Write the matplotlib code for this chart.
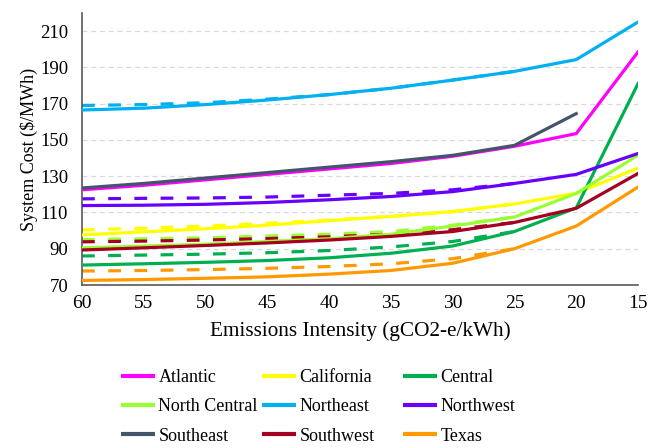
import matplotlib
matplotlib.use("Agg")
import matplotlib.pyplot as plt
from matplotlib.lines import Line2D

plt.rcParams['font.family'] = ['Liberation Serif', 'DejaVu Serif']

# Emission intensity targets (gCO2-e/kWh), drawn as evenly spaced categories
intensity = ["60", "55", "50", "45", "40", "35", "30", "25", "20", "15"]

regions = ["Atlantic", "California", "Central", "North Central", "Northeast",
           "Northwest", "Southeast", "Southwest", "Texas"]

colors = {
    "Atlantic": "#FF00FF",
    "California": "#FFFF00",
    "Central": "#00B050",
    "North Central": "#99FF33",
    "Northeast": "#00B0F0",
    "Northwest": "#6600FF",
    "Southeast": "#44546A",
    "Southwest": "#A50021",
    "Texas": "#FF9900",
}

# System cost ($/MWh), solid scenario
atlantic = [122.5, 125, 128, 131, 134, 137, 141, 146.5, 153.5, 198.5]
california = [97.6, 99.3, 101, 103, 105.5, 107.8, 110.5, 114.7, 120.6, 134.5]
central = [81, 81.7, 82.5, 83.5, 85, 87.5, 91.5, 99.5, 112.5, 181]
north_central = [90.5, 91.5, 92.5, 94, 95.5, 98, 102.5, 107.5, 120.5, 141.5]
northeast = [166.5, 167.5, 169.5, 172, 175, 178.5, 183, 187.8, 194.3, 215]
northwest = [113.8, 114, 114.5, 115.5, 117, 118.8, 121.5, 126, 131, 142.5]
southeast = [123.5, 126, 129, 132, 135, 138, 141.5, 147, 164.5]
southwest = [89.3, 90.5, 91.8, 93.2, 94.8, 96.8, 99.5, 104.5, 112.3, 131.5]
texas = [72.5, 73, 73.7, 74.5, 76, 78, 82, 90, 102.5, 124]

# System cost ($/MWh), dashed scenario (60 to 25 gCO2-e/kWh)
california_d = [100.4, 101.3, 102.5, 104, 105.8, 107.9, 110.5, 114.7]
central_d = [86, 86.5, 87, 87.8, 89, 91, 94, 99.5]
north_central_d = [95, 95.5, 96, 97, 98, 99.5, 103, 107.5]
northeast_d = [169, 169.5, 170.5, 172.5, 175, 178.5, 183, 187.8]
northwest_d = [117.5, 117.8, 118, 118.5, 119.5, 120.5, 122.5, 126]
southwest_d = [93.8, 94.2, 94.8, 95.6, 96.6, 98, 100.5, 104.5]
texas_d = [77.7, 78, 78.5, 79.2, 80.2, 81.7, 84.5, 90]

solid = {
    "Atlantic": atlantic, "California": california, "Central": central,
    "North Central": north_central, "Northeast": northeast,
    "Northwest": northwest, "Southeast": southeast, "Southwest": southwest,
    "Texas": texas,
}
dashed = {
    "California": california_d, "Central": central_d,
    "North Central": north_central_d, "Northeast": northeast_d,
    "Northwest": northwest_d, "Southwest": southwest_d, "Texas": texas_d,
}

fig = plt.figure(figsize=(6.48, 4.48), dpi=100)
W, H = 648, 448
ax = fig.add_axes([82 / W, 1 - 285 / H, (638 - 82) / W, (285 - 13) / H])

xpos = list(range(len(intensity)))
lw = 2.3

for name, vals in dashed.items():
    ax.plot(xpos[:len(vals)], vals, color=colors[name], lw=lw,
            dashes=(4, 4.2), solid_capstyle='butt', zorder=2)

for name in regions:
    vals = solid[name]
    ax.plot(xpos[:len(vals)], vals, color=colors[name], lw=lw,
            solid_joinstyle='round', zorder=3)

ax.set_xlim(0, len(intensity) - 1)
ax.set_ylim(70, 220)
ax.set_xticks(xpos)
ax.set_xticklabels(intensity)
ax.set_yticks(range(70, 211, 20))
ax.tick_params(axis='both', length=0, colors='black')
ax.tick_params(axis='x', pad=7, labelsize=14)
ax.tick_params(axis='y', pad=10, labelsize=13.5)

ax.grid(axis='y', color='#D9D9D9', linestyle=(0, (4, 3)), linewidth=0.9)
ax.set_axisbelow(True)
for s in ['top', 'right']:
    ax.spines[s].set_visible(False)
for s in ['left', 'bottom']:
    ax.spines[s].set_color('#595959')
    ax.spines[s].set_linewidth(1.2)

ax.set_xlabel("Emissions Intensity (gCO2-e/kWh)", fontsize=15.3, labelpad=7)
ax.set_ylabel("System Cost ($/MWh)", fontsize=13, labelpad=1.5)

# Legend laid out as three columns below the plot
columns = [["Atlantic", "North Central", "Southeast"],
           ["California", "Northeast", "Southwest"],
           ["Central", "Northwest", "Texas"]]
col_x = [121, 262, 403]
for names, x0 in zip(columns, col_x):
    hs = [Line2D([], [], color=colors[n], lw=3, solid_capstyle='butt') for n in names]
    fig.legend(hs, names, loc='upper left',
               bbox_to_anchor=(x0 / W, 1 - 369 / H),
               frameon=False, fontsize=13, handlelength=1.9,
               handletextpad=0.17, labelspacing=0.68,
               borderpad=0, borderaxespad=0)

fig.savefig("out.png", dpi=100)
